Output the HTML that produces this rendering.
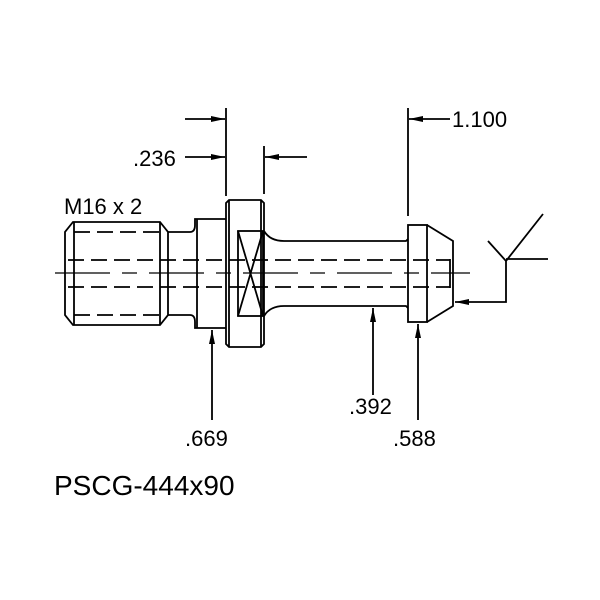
<!DOCTYPE html>
<html><head><style>body{margin:0;background:#fff}svg{display:block}</style></head><body>
<svg width="600" height="600" viewBox="0 0 600 600" xmlns="http://www.w3.org/2000/svg">
<defs><marker id="b" viewBox="0 0 14 6" refX="14" refY="3" markerWidth="14" markerHeight="6" markerUnits="userSpaceOnUse" orient="auto"><path d="M0,0L14,3L0,6z" fill="#000"/></marker></defs>
<g fill="none" stroke="#000" stroke-width="1.8">
<path d="M73,222H160L168,232V315L160,325H73L65,315V232Z"/>
<line x1="74" y1="222" x2="74" y2="325"/><line x1="160" y1="222" x2="160" y2="325"/>
<path d="M168,232H190Q195,232 195,225V219H226M168,315H190Q195,315 195,322V328H226"/>
<line x1="197" y1="219" x2="197" y2="328"/>
<path d="M229,200H261L264,203V344L261,347H229L226,344V203Z"/>
<line x1="229" y1="200" x2="229" y2="347"/><line x1="261" y1="200" x2="261" y2="347"/>
<rect x="238" y="231" width="25" height="85"/>
<path d="M238,231L263,316M263,231L238,316"/>
<path d="M264,231Q270,241 284,241H406L408,239M264,316Q270,306 284,306H406L408,308"/>
<rect x="408" y="225" width="19" height="97"/>
<path d="M427,225L453,241V306L427,322"/>
<line x1="450" y1="259" x2="450" y2="288"/>
<g stroke-dasharray="16,7">
<line x1="74" y1="232" x2="160" y2="232"/><line x1="74" y1="315" x2="160" y2="315"/>
<line x1="68" y1="260" x2="450" y2="260"/><line x1="68" y1="287" x2="450" y2="287"/>
</g>
<line x1="55" y1="273" x2="470" y2="273" stroke-width="1.2" stroke-dasharray="55,12,15,12"/>
<path d="M488,241L506,261L543,214M506,259H548M506,261V302H455" marker-end="url(#b)"/>
<line x1="226" y1="108" x2="226" y2="196"/><line x1="264" y1="146" x2="264" y2="194"/><line x1="408" y1="108" x2="408" y2="216"/>
<line x1="185" y1="119" x2="225" y2="119" marker-end="url(#b)"/>
<line x1="185" y1="157" x2="225" y2="157" marker-end="url(#b)"/>
<line x1="307" y1="157" x2="265" y2="157" marker-end="url(#b)"/>
<line x1="450" y1="119" x2="409" y2="119" marker-end="url(#b)"/>
<line x1="212" y1="420" x2="212" y2="330" marker-end="url(#b)"/>
<line x1="373" y1="395" x2="373" y2="308" marker-end="url(#b)"/>
<line x1="418" y1="420" x2="418" y2="324" marker-end="url(#b)"/>
</g>
<g font-family="Liberation Sans, sans-serif" font-size="22" fill="#000">
<text x="452" y="127">1.100</text>
<text x="133" y="166">.236</text>
<text x="64" y="214">M16 x 2</text>
<text x="185" y="446">.669</text>
<text x="349" y="414">.392</text>
<text x="393" y="446">.588</text>
<text x="54" y="495" font-size="28">PSCG-444x90</text>
</g>
</svg>
</body></html>
